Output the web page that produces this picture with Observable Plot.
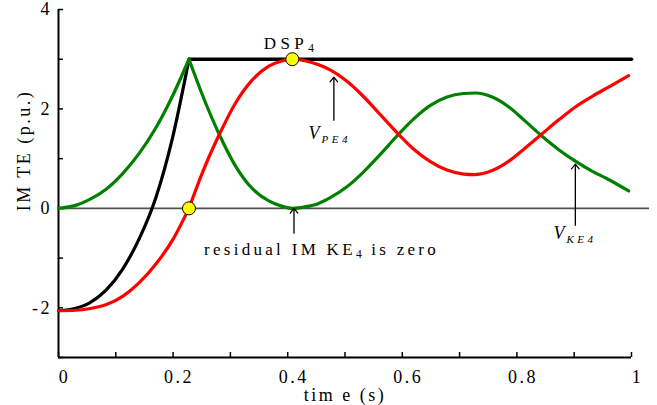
<!DOCTYPE html>
<html>
<head>
<meta charset="utf-8">
<script src="https://cdn.jsdelivr.net/npm/d3@7"></script>
<script src="https://cdn.jsdelivr.net/npm/@observablehq/plot@0.6"></script>
<style>
  body { margin: 0; background: #fff; }
  #chart svg, #chart svg text { font-family: "Liberation Serif", "Times New Roman", serif !important; }
  #chart svg text { letter-spacing: 2.5px; }
</style>
</head>
<body>
<div id="chart"></div>
<script>
// During the fault (t = 0 … clearing at 0.2277 s)
const faultTime = [0, 0.03, 0.053, 0.0825, 0.112, 0.1405, 0.17, 0.199, 0.2277];
const faultKE   = [0, 0.06, 0.17, 0.38, 0.70, 1.10, 1.62, 2.26, 3.0];
const faultPE   = [-2.06, -2.05, -2.02, -1.94, -1.77, -1.50, -1.12, -0.64, 0];
const faultTE   = [-2.06, -2.01, -1.91, -1.65, -1.22, -0.62, 0.22, 1.42, 3.0];

// After clearing
const postTime = [0.2277, 0.2505, 0.280, 0.309, 0.338, 0.367, 0.388, 0.408, 0.430, 0.454,
                  0.475, 0.504, 0.533, 0.562, 0.591, 0.620, 0.649, 0.678, 0.707, 0.7275,
                  0.757, 0.786, 0.815, 0.844, 0.873, 0.902, 0.931, 0.960, 0.995];
const postKE = [3.0, 2.30, 1.50, 0.85, 0.40, 0.15, 0.05, 0.0, 0.03, 0.10,
                0.22, 0.44, 0.74, 1.09, 1.46, 1.80, 2.07, 2.24, 2.31, 2.32,
                2.24, 2.04, 1.75, 1.45, 1.18, 0.95, 0.75, 0.58, 0.35];
const postPE = [0, 0.70, 1.47, 2.12, 2.58, 2.86, 2.96, 3.0, 2.97, 2.89,
                2.78, 2.55, 2.24, 1.88, 1.52, 1.19, 0.94, 0.77, 0.69, 0.68,
                0.76, 0.95, 1.22, 1.50, 1.78, 2.04, 2.25, 2.44, 2.67];
const postTETime = [0.2277, 1.0];
const postTE     = [3.0, 3.0];

// Marked points: PE zero-crossing at clearing, and DSP4
const markerTime  = [0.2277, 0.408];
const markerValue = [0, 3];

// Axes
const xTickValues  = [0, 0.1, 0.2, 0.3, 0.4, 0.5, 0.6, 0.7, 0.8, 0.9, 1];
const xLabelValues = [0, 0.2, 0.4, 0.6, 0.8, 1];
const yTickValues  = [-3, -2, -1, 0, 1, 2, 3, 4];
const yLabelValues = [-2, 0, 2, 4];
const xTitle = "tim e (s)";
const yTitle = "IM TE (p.u.)";

// Annotation arrows (time, from value, to value) and labels ("|" toggles subscript)
const arrowTime  = [0.4806, 0.411, 0.902];
const arrowFrom  = [1.77, -0.50, -0.34];
const arrowTo    = [2.64, 0.0, 0.89];
const labelText  = ["DSP|4", "V|PE4", "residual IM KE|4| is zero", "V|KE4"];
const labelTime  = [0.358, 0.4364, 0.2538, 0.8637];
const labelValue = [3.32, 1.51, -0.83, -0.51];
const labelItalic = [false, true, false, true];
const labelSpacing = [4.5, 0, 3.3, 0];

const faultRows = faultTime.map((t, i) => ({t, ke: faultKE[i], pe: faultPE[i], te: faultTE[i]}));
const postRows = postTime.map((t, i) => ({t, ke: postKE[i], pe: postPE[i]}));
const teRows = postTETime.map((t, i) => ({t, te: postTE[i]}));
const markers = markerTime.map((t, i) => ({t, v: markerValue[i]}));
const arrows = arrowTime.map((t, i) => ({t, v1: arrowFrom[i], v2: arrowTo[i]}));
const labels = labelText.map((s, i) => ({s, t: labelTime[i], v: labelValue[i], italic: labelItalic[i], sp: labelSpacing[i]}));

const lineW = 3.2;
const smooth = "monotone-x";

const svg = Plot.plot({
  width: 657,
  height: 405,
  marginTop: 9,
  marginRight: 26,
  marginBottom: 48,
  marginLeft: 58,
  style: {fontFamily: "Liberation Serif", fontSize: "17px", background: "#fff", color: "#000"},
  x: {domain: [0, 1], axis: null},
  y: {domain: [-3, 4], axis: null},
  marks: [
    // zero reference line
    Plot.ruleY([0], {stroke: "#505050", strokeWidth: 1.6, insetRight: -18}),
    // axis frame lines and inward ticks
    Plot.ruleX([0], {stroke: "#000", strokeWidth: 2}),
    Plot.ruleY([-3], {stroke: "#000", strokeWidth: 2}),
    Plot.tickX(xTickValues, {x: d => d, insetTop: 343, stroke: "#000", strokeWidth: 1.5}),
    Plot.tickY(yTickValues, {y: d => d, insetRight: 568, stroke: "#000", strokeWidth: 1.5}),
    Plot.axisX({ticks: xLabelValues, tickSize: 0, tickPadding: 13, tickFormat: d => String(d),
                label: null, fontSize: 18, dx: 6}),
    Plot.axisY({ticks: yLabelValues, tickSize: 0, tickPadding: 6.5, tickFormat: d => String(d),
                label: null, fontSize: 18}),
    Plot.text([xTitle], {frameAnchor: "bottom", dy: 38, text: d => d, fontSize: 18,
                         textAnchor: "middle", lineAnchor: "middle"}),
    Plot.text([yTitle], {frameAnchor: "left", rotate: -90, dx: -34, dy: -33, text: d => d, fontSize: 18,
                         textAnchor: "middle", lineAnchor: "middle"}),

    // total energy (black), kinetic (green), potential (red)
    Plot.line(faultRows, {x: "t", y: "te", stroke: "#000", strokeWidth: lineW, curve: smooth}),
    Plot.line(teRows, {x: "t", y: "te", stroke: "#000", strokeWidth: 3.6}),
    Plot.line(faultRows, {x: "t", y: "ke", stroke: "#008000", strokeWidth: lineW, curve: smooth}),
    Plot.line(postRows, {x: "t", y: "ke", stroke: "#008000", strokeWidth: lineW, curve: smooth}),
    Plot.line(faultRows, {x: "t", y: "pe", stroke: "#ff0000", strokeWidth: lineW, curve: smooth}),
    Plot.line(postRows, {x: "t", y: "pe", stroke: "#ff0000", strokeWidth: lineW, curve: smooth}),

    Plot.dot(markers, {x: "t", y: "v", r: 6.5, fill: "#ffff00", stroke: "#000", strokeWidth: 1}),

    // annotations
    Plot.arrow(arrows, {x1: "t", x2: "t", y1: "v1", y2: "v2", stroke: "#000", strokeWidth: 1.3,
                        headLength: 7, headAngle: 78}),
    Plot.text(labels.filter(d => !d.italic), {x: "t", y: "v", text: "s", textAnchor: "start",
                        fontSize: 17, lineAnchor: "middle"}),
    Plot.text(labels.filter(d => d.italic), {x: "t", y: "v", text: "s", textAnchor: "start",
                        fontSize: 18, fontStyle: "italic", lineAnchor: "middle"})
  ]
});

// split "main|sub|main" strings into tspans with lowered, smaller subscripts
const labelInfo = new Map(labels.map(d => [d.s, d]));
d3.select(svg).selectAll("text").each(function () {
  const s = this.textContent;
  const info = labelInfo.get(s);
  if (!info || !s.includes("|")) return;
  const node = d3.select(this).text("");
  node.style("letter-spacing", info.sp + "px");
  let shifted = false;
  s.split("|").forEach((p, i) => {
    if (!p) return;
    const span = node.append("tspan").text(p);
    if (i % 2) {
      span.attr("font-size", info.italic ? "11px" : "11.5px")
          .attr("dy", info.italic ? 4 : 3)
          .style("letter-spacing", info.italic ? "3.5px" : "2px");
      if (info.italic) span.attr("dx", 2);
      shifted = true;
    } else if (shifted) {
      span.attr("dy", info.italic ? -4 : -3);
      shifted = false;
    }
  });
});

document.getElementById("chart").append(svg);
</script>
</body>
</html>
